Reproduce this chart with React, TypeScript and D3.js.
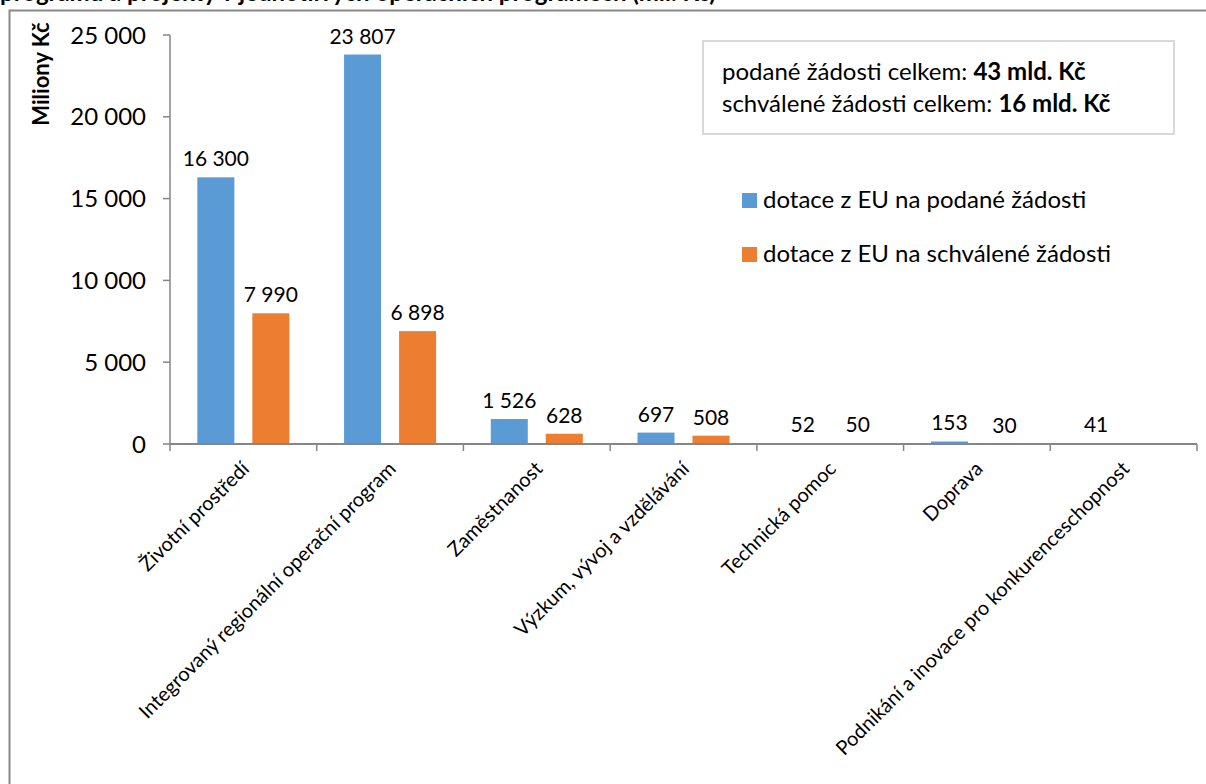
import React from "react";
import * as d3 from "d3";

const categories = [
  "Životní prostředí",
  "Integrovaný regionální operační program",
  "Zaměstnanost",
  "Výzkum, vývoj a vzdělávání",
  "Technická pomoc",
  "Doprava",
  "Podnikání a inovace pro konkurenceschopnost",
];
const seriesNames = ["dotace z EU na podané žádosti", "dotace z EU na schválené žádosti"];
const submitted: (number | null)[] = [16300, 23807, 1526, 697, 52, 153, 41];
const approved: (number | null)[] = [7990, 6898, 628, 508, 50, 30, null];
const yTicks = [0, 5000, 10000, 15000, 20000, 25000];
const colors = ["#5B9BD5", "#ED7D31"];

const W = 1206;
const H = 784;
const FONT = "Lato, 'Open Sans', sans-serif";

export default function App() {
  const x0 = d3.scaleBand<string>().domain(categories).range([170, 1197]).padding(0);
  const x1 = d3
    .scaleBand<string>()
    .domain(["0", "1"])
    .range([0, x0.bandwidth()])
    .paddingInner(0.327)
    .paddingOuter(0.497);
  const y = d3.scaleLinear().domain([0, 25000]).range([444, 35]);
  const fmt = (v: number) => d3.format(",")(v).replace(/,/g, " ");
  const series = [submitted, approved];

  return (
    <svg
      width={W}
      height={H}
      style={{ position: "absolute", left: 0, top: 0, background: "#fff" }}
      fontFamily={FONT}
    >
      {/* clipped title (cut off at top edge, as in the source) */}
      <text x={0} y={1} fontSize={24} fontWeight="bold" fill="#000">
        programů a projekty v jednotlivých operačních programech (mil. Kč)
      </text>
      <rect x={0} y={9} width={W} height={H} fill="#fff" />
      <rect x={9.5} y={10.5} width={1220} height={800} fill="#fff" stroke="#898989" strokeWidth={2} />

      {/* y axis */}
      <line x1={170} x2={170} y1={y(25000)} y2={y(0)} stroke="#868686" strokeWidth={1.5} />
      {yTicks.map((t) => (
        <g key={t}>
          <line x1={163} x2={170} y1={y(t)} y2={y(t)} stroke="#868686" strokeWidth={1.5} />
          <text x={146} y={y(t)} dy="0.36em" textAnchor="end" fontSize={24} fill="#000">
            {fmt(t)}
          </text>
        </g>
      ))}
      <text
        transform={`translate(49, ${74}) rotate(-90)`}
        textAnchor="middle"
        fontSize={22}
        fontWeight="bold"
        fill="#000"
      >
        Miliony Kč
      </text>

      {/* bars */}
      {categories.map((c, i) => (
        <g key={c} transform={`translate(${x0(c)},0)`}>
          {series.map((s, j) => {
            const v = s[i];
            if (v == null) return null;
            const bx = x1(String(j))!;
            return (
              <g key={j}>
                <rect x={bx} y={y(v)} width={x1.bandwidth()} height={y(0) - y(v)} fill={colors[j]} />
                <text
                  x={bx + x1.bandwidth() / 2}
                  y={y(v) - 11}
                  textAnchor="middle"
                  fontSize={21}
                  fill="#000"
                >
                  {fmt(v)}
                </text>
              </g>
            );
          })}
        </g>
      ))}

      {/* x axis */}
      <line x1={170} x2={1197} y1={y(0)} y2={y(0)} stroke="#868686" strokeWidth={2} />
      {[...categories.map((c) => x0(c)!), 1197].map((t, i) => (
        <line key={i} x1={t} x2={t} y1={y(0)} y2={y(0) + 7} stroke="#868686" strokeWidth={1.5} />
      ))}
      {categories.map((c) => {
        const cx = x0(c)! + x0.bandwidth() / 2 + 7;
        return (
          <text
            key={c}
            transform={`translate(${cx}, ${470}) rotate(-45)`}
            textAnchor="end"
            fontSize={20}
            fill="#000"
          >
            {c}
          </text>
        );
      })}

      {/* summary box */}
      <rect x={703} y={41} width={471} height={93} fill="#fff" stroke="#d9d9d9" strokeWidth={2} />
      <text x={722} y={80} fontSize={24} fill="#000">
        podané žádosti celkem: <tspan fontWeight="bold">43 mld. Kč</tspan>
      </text>
      <text x={722} y={112} fontSize={24} fill="#000">
        schválené žádosti celkem: <tspan fontWeight="bold">16 mld. Kč</tspan>
      </text>

      {/* legend */}
      {seriesNames.map((n, j) => (
        <g key={n} transform={`translate(742, ${193 + j * 54})`}>
          <rect x={0} y={0} width={15} height={15} fill={colors[j]} />
          <text x={21} y={15} fontSize={24} fill="#000">
            {n}
          </text>
        </g>
      ))}
    </svg>
  );
}
